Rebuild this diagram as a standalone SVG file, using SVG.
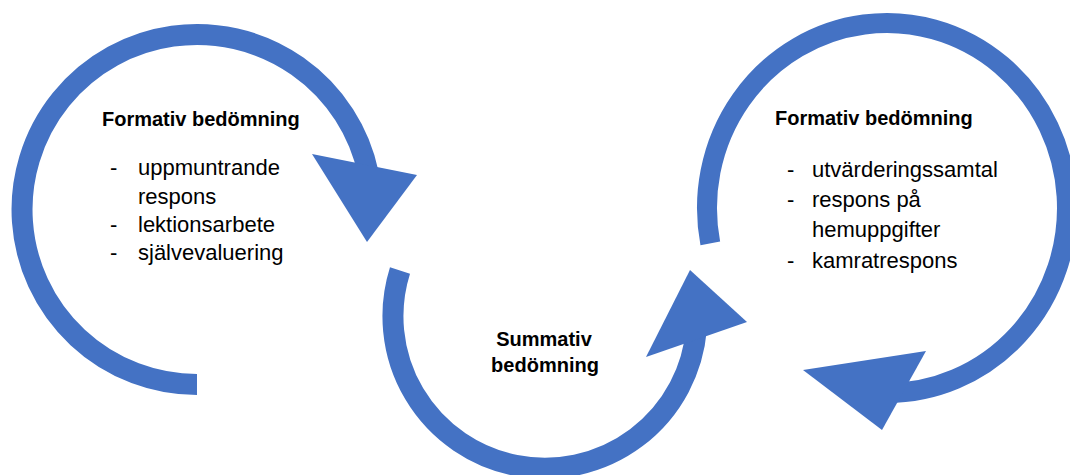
<svg xmlns="http://www.w3.org/2000/svg" width="1070" height="475" viewBox="0 0 1070 475">
  <style>
    .arc { fill: none; stroke: #4472C4; stroke-width: 21; stroke-linecap: butt; }
    .head { fill: #4472C4; stroke: none; }
    .title { font-family: "Liberation Sans", Arial, sans-serif; font-weight: bold; font-size: 20px; fill: #000; }
    .item { font-family: "Liberation Sans", Arial, sans-serif; font-size: 22px; fill: #000; }
  </style>
  <rect width="1070" height="475" fill="#ffffff"/>
  <g id="connectors">
    <path class="arc" d="M 197 384.5 A 175 175 0 1 1 368.2 173.1"/>
    <polygon class="head" points="312,154 417,175 367,242"/>
    <path class="arc" d="M 400 270.5 A 152 152 0 1 0 696.4 329.2"/>
    <polygon class="head" points="690,270 747,322 646,357"/>
    <path class="arc" style="stroke-width:20" d="M 887 393 A 180 185 0 1 0 710.3 243.3"/>
    <polygon class="head" points="803,370 926,351 882,430"/>
  </g>
  <g id="node-formativ-1">
    <text class="title" x="102" y="126">Formativ bedömning</text>
    <text class="item" x="110" y="175">-</text>
    <text class="item" x="138" y="175">uppmuntrande</text>
    <text class="item" x="138" y="204">respons</text>
    <text class="item" x="110" y="232">-</text>
    <text class="item" x="138" y="232">lektionsarbete</text>
    <text class="item" x="110" y="260">-</text>
    <text class="item" x="138" y="260">självevaluering</text>
  </g>
  <g id="node-summativ">
    <text class="title" x="544" y="346" text-anchor="middle">Summativ</text>
    <text class="title" x="545" y="372" text-anchor="middle">bedömning</text>
  </g>
  <g id="node-formativ-2">
    <text class="title" x="775" y="125">Formativ bedömning</text>
    <text class="item" x="787" y="177">-</text>
    <text class="item" x="812" y="177">utvärderingssamtal</text>
    <text class="item" x="787" y="207">-</text>
    <text class="item" x="812" y="207">respons på</text>
    <text class="item" x="812" y="237">hemuppgifter</text>
    <text class="item" x="787" y="268">-</text>
    <text class="item" x="812" y="268">kamratrespons</text>
  </g>
</svg>
